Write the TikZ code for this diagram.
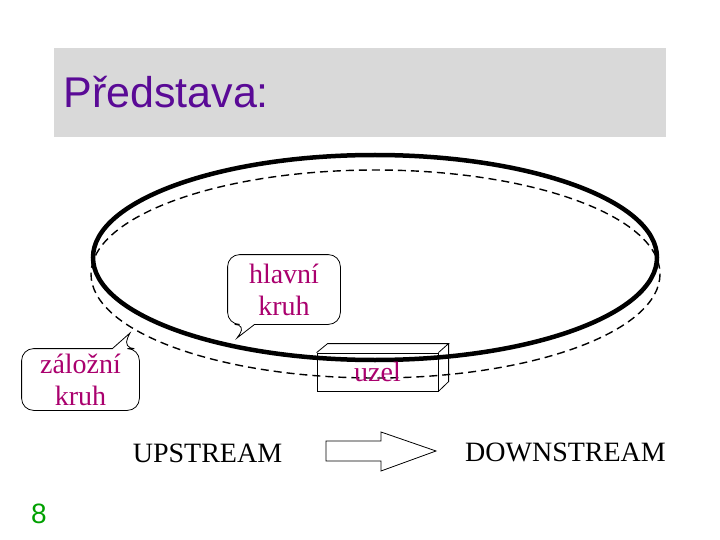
\documentclass[tikz,border=0pt]{standalone}
\usepackage{fontspec}
\setmainfont{Liberation Serif}
\newfontfamily\titlefont{Liberation Sans}
\usepackage{xcolor}
\definecolor{slidegray}{RGB}{217, 217, 217}
\definecolor{titlepurple}{RGB}{90, 10, 150}
\definecolor{labelpink}{RGB}{170, 0, 110}
\definecolor{pagegreen}{RGB}{0, 160, 0}

\begin{document}
\begin{tikzpicture}[
    x=1pt, y=-1pt,
    bigtext/.style={font=\fontsize{28}{32}\selectfont, inner sep=0pt},
    bubbletext/.style={bigtext, text=labelpink, align=center, minimum width=#1},
    bubble/.style={draw, fill=white, line width=0.8pt},
    mainring/.style={line width=4.5pt},
    backupring/.style={line width=1.4pt, dash pattern=on 8pt off 5pt},
    line width=0.8pt
]
    \useasboundingbox (0,0) rectangle (720,540);

    % ==========================================
    % TITLE
    % ==========================================
    \fill[slidegray] (54,48) rectangle (666,137);
    \node[anchor=base west, inner sep=0pt, text=titlepurple,
          font=\titlefont\fontsize{43}{48}\selectfont] (title) at (63,108) {Představa:};

    % ==========================================
    % RINGS (solid = main, dashed = backup)
    % ==========================================
    \draw[backupring] (375.5,274) ellipse [x radius=284.5, y radius=104];
    \draw[mainring]   (375,257.5) ellipse [x radius=282, y radius=102.5];

    % ==========================================
    % NODE BOX (uzel)
    % ==========================================
    \node[draw, bigtext, text=labelpink, minimum width=121, minimum height=38] (uzel) at (377.5,372) {uzel};
    \draw (uzel.north west) -- ++(11,-9) coordinate (uzel_back)
          -- ++(121,0) coordinate (uzel_backr) -- (uzel.north east);
    \draw (uzel_backr) -- ++(0,38) -- (uzel.south east);

    % ==========================================
    % CALLOUTS
    % ==========================================
    \coordinate (hlavni_tip) at (237,338);
    \coordinate (zalozni_tip) at (130,333);

    \node[bubbletext=112, minimum height=69] (hlavni) at (284,289.5) {};
    \draw[bubble] ([xshift=19]hlavni.south west) -- (hlavni_tip) -- ([xshift=27]hlavni.south west)
        [rounded corners=12] -- (hlavni.south east) -- (hlavni.north east)
        -- (hlavni.north west) -- (hlavni.south west) -- cycle;
    \node[bubbletext=112] (hlavni_text) at (hlavni) {hlavní\\kruh};

    \node[bubbletext=117, minimum height=61] (zalozni) at (80.5,379.5) {};
    \draw[bubble] ([xshift=-17]zalozni.north east) -- (zalozni_tip) -- ([xshift=-27]zalozni.north east)
        [rounded corners=12] -- (zalozni.north west) -- (zalozni.south west)
        -- (zalozni.south east) -- (zalozni.north east) -- cycle;
    \node[bubbletext=117] (zalozni_text) at (zalozni) {záložní\\kruh};

    % ==========================================
    % DIRECTION
    % ==========================================
    \node[bigtext, anchor=base] (up) at (207.5,462) {UPSTREAM};
    \node[bigtext, anchor=base] (down) at (565.5,461) {DOWNSTREAM};
    \draw (326,441) -- (381,441) -- (381,432) -- (436,451)
          -- (381,471) -- (381,461) -- (326,461) -- cycle;

    % page number
    \node[anchor=base, inner sep=0pt, text=pagegreen,
          font=\titlefont\fontsize{28}{32}\selectfont] (page) at (39,523) {8};

\end{tikzpicture}
\end{document}
